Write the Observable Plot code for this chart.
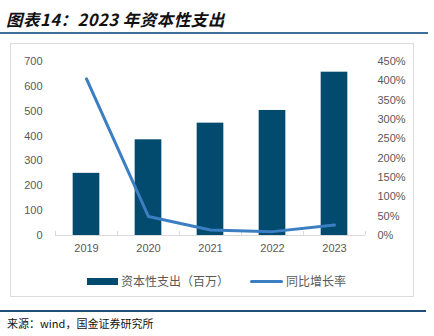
<!DOCTYPE html>
<html>
<head>
<meta charset="utf-8">
<script src="https://cdn.jsdelivr.net/npm/d3@7"></script>
<script src="https://cdn.jsdelivr.net/npm/@observablehq/plot@0.6"></script>
<style>
  html, body { margin: 0; padding: 0; background: #fff; }
  body { width: 434px; height: 336px; position: relative; overflow: hidden; font-family: "Liberation Sans", "Noto Sans CJK SC", sans-serif; }
  #title { position: absolute; left: 6px; top: 9px; font-family: "Noto Sans CJK SC", sans-serif; font-weight: bold; font-style: italic; font-size: 16.5px; line-height: 20px; color: #111; white-space: nowrap; letter-spacing: 0.5px; }
  #tline { position: absolute; left: 0; top: 32px; width: 428px; height: 2px; background: #3d6f9a; }
  #box { position: absolute; left: 10px; top: 43px; width: 404px; height: 254px; border: 1px solid #dcdcdc; box-sizing: border-box; }
  #chart { position: absolute; left: 0; top: 40px; }
  #legend { position: absolute; left: 0; top: 272px; width: 434px; height: 18px; font-family: "Noto Sans CJK SC", sans-serif; font-size: 12px; color: #595959; }
  .sw-bar { position: absolute; left: 87px; top: 6px; width: 31px; height: 7px; background: #034a6f; }
  .sw-line { position: absolute; left: 250px; top: 8px; width: 33px; height: 3px; background: #3b7ec2; border-radius: 2px; }
  .lt { position: absolute; top: 0px; line-height: 18px; white-space: nowrap; }
  #bline { position: absolute; left: 0; top: 310px; width: 426px; height: 1.5px; background: #1f4e79; }
  #source { position: absolute; left: 7px; top: 315px; font-family: "Noto Sans CJK SC", "DejaVu Sans Mono", monospace; font-size: 11px; line-height: 16px; color: #111; white-space: nowrap; }
</style>
</head>
<body>
<div id="title">图表14：2023 年资本性支出</div>
<div id="tline"></div>
<div id="box"></div>
<div id="chart"></div>
<div id="legend">
  <div class="sw-bar"></div><div class="lt" style="left:121px">资本性支出（百万）</div>
  <div class="sw-line"></div><div class="lt" style="left:286px">同比增长率</div>
</div>
<div id="bline"></div>
<div id="source">来源：wind，国金证券研究所</div>
<script>
const years = [2019, 2020, 2021, 2022, 2023];
const capex = [250, 385, 452, 503, 657];           // 资本性支出（百万）
const growth = [405, 49, 14, 10, 27];               // 同比增长率 (%)
const leftTicks = [0, 100, 200, 300, 400, 500, 600, 700];
const rightTicks = [0, 50, 100, 150, 200, 250, 300, 350, 400, 450];

const leftMax = 700, rightMax = 450;
const k = leftMax / rightMax;
const halfBar = 0.215;

const bars = years.map((y, i) => ({year: y, value: capex[i]}));
const line = years.map((y, i) => ({year: y, pct: growth[i]}));
const bounds = d3.range(years.length + 1).map(i => years[0] - 0.5 + i);

const textColor = "#595959";
const chart = Plot.plot({
  width: 434,
  height: 220,
  marginLeft: 55,
  marginRight: 69,
  marginTop: 21,
  marginBottom: 25,
  style: {fontFamily: "Liberation Sans, Arial, sans-serif", fontSize: "11px", color: textColor, background: "transparent"},
  x: {domain: [years[0] - 0.5, years[years.length - 1] + 0.5], axis: null},
  y: {domain: [0, leftMax], axis: null},
  marks: [
    Plot.rectY(bars, {x1: d => d.year - halfBar, x2: d => d.year + halfBar, y1: 0, y2: "value", fill: "#034a6f"}),
    Plot.ruleY([0], {stroke: "#d9d9d9", strokeWidth: 1}),
    Plot.axisX(bounds, {tickSize: -4, stroke: "#d9d9d9", tickFormat: () => "", tickPadding: 0, label: null}),
    Plot.axisX(years, {tickSize: 0, tickPadding: 9, tickFormat: d => String(d), fill: textColor, label: null}),
    Plot.axisY(leftTicks, {anchor: "left", tickSize: 0, tickPadding: 13, fill: textColor, label: null}),
    Plot.axisY(rightTicks.map(v => v * k), {anchor: "right", tickSize: 0, tickPadding: 12, fill: textColor, label: null,
      tickFormat: v => Math.round(v / k) + "%"}),
    Plot.line(line, {x: "year", y: d => d.pct * k, stroke: "#3b7ec2", strokeWidth: 3, strokeLinejoin: "round", strokeLinecap: "round"})
  ]
});
document.getElementById("chart").appendChild(chart);
</script>
</body>
</html>
